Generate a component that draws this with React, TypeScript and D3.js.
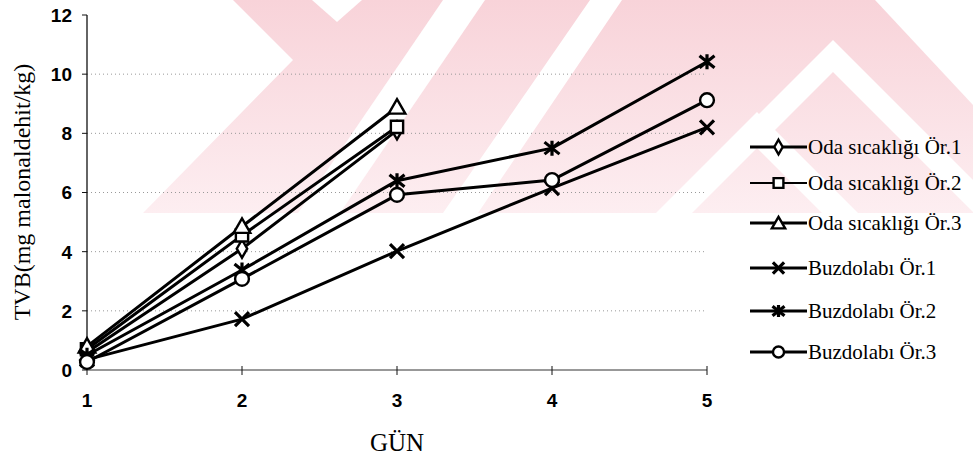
import React from "react";
import * as d3 from "d3";

// ---- data ----
const days = [1, 2, 3, 4, 5];
const yTicks = [0, 2, 4, 6, 8, 10, 12];
const gridValues = [2, 4, 6, 8, 10];
const seriesLabels = [
  "Oda sıcaklığı  Ör.1",
  "Oda sıcaklığı  Ör.2",
  "Oda sıcaklığı  Ör.3",
  "Buzdolabı Ör.1",
  "Buzdolabı Ör.2",
  "Buzdolabı Ör.3",
];
const odaOr1 = [0.6, 4.1, 8.1];
const odaOr2 = [0.7, 4.55, 8.22];
const odaOr3 = [0.8, 4.85, 8.88];
const buzOr1 = [0.35, 1.72, 4.02, 6.15, 8.2];
const buzOr2 = [0.5, 3.38, 6.4, 7.5, 10.42];
const buzOr3 = [0.27, 3.08, 5.92, 6.42, 9.12];
const seriesValues = [odaOr1, odaOr2, odaOr3, buzOr1, buzOr2, buzOr3];
const markerKinds = ["diamond", "square", "triangle", "x", "asterisk", "circle"];
const xTitle = "GÜN";
const yTitle = "TVB(mg malonaldehit/kg)";

// ---- layout ----
const W = 973;
const H = 459;
const x = d3.scaleLinear().domain([1, 5]).range([87, 707]);
const y = d3.scaleLinear().domain([0, 12]).range([370, 15]);
const legendX0 = 750;
const legendX1 = 807;
const legendYs = [147, 183, 223, 268, 311, 352];

const serif = "'Liberation Serif', 'Times New Roman', serif";
const sans = "'Liberation Sans', Arial, sans-serif";

function Marker({ kind, cx, cy, s = 1 }: { kind: string; cx: number; cy: number; s?: number }) {
  const sw = 2.4;
  if (kind === "x") {
    const r = 7 * s;
    return (
      <path
        d={`M${cx - r},${cy - r}L${cx + r},${cy + r}M${cx - r},${cy + r}L${cx + r},${cy - r}`}
        stroke="#000"
        strokeWidth={3.2}
        fill="none"
      />
    );
  }
  if (kind === "asterisk") {
    const r = 7.5 * s;
    return (
      <path
        d={`M${cx - r},${cy - r * 0.8}L${cx + r},${cy + r * 0.8}M${cx - r},${cy + r * 0.8}L${cx + r},${cy - r * 0.8}M${cx},${cy - r}L${cx},${cy + r}`}
        stroke="#000"
        strokeWidth={3.2}
        fill="none"
      />
    );
  }
  const typeMap: Record<string, any> = {
    diamond: d3.symbolDiamond,
    square: d3.symbolSquare,
    triangle: d3.symbolTriangle,
    circle: d3.symbolCircle,
  };
  const sizeMap: Record<string, number> = {
    diamond: 95,
    square: 150,
    triangle: 120,
    circle: 150,
  };
  const p = d3.symbol().type(typeMap[kind]).size(sizeMap[kind] * s * s)() as string;
  return (
    <path
      d={p}
      transform={`translate(${cx},${cy + (kind === "triangle" ? 1.5 : 0)})`}
      fill="#fff"
      stroke="#000"
      strokeWidth={sw}
    />
  );
}

export default function App() {
  const line = d3
    .line<number>()
    .x((_, i) => x(days[i]))
    .y((v) => y(v));

  const pink = (pts: number[][]) => pts.map((p) => p.join(",")).join(" ");

  return (
    <svg
      width={W}
      height={H}
      style={{ position: "absolute", left: 0, top: 0, background: "#fff" }}
    >
      <defs>
        <linearGradient id="wm" x1="0" y1="0" x2="0" y2="1">
          <stop offset="0" stopColor="#f8d3d9" />
          <stop offset="1" stopColor="#fdeef1" />
        </linearGradient>
      </defs>
      {/* watermark */}
      <g>
        <polygon
          points={pink([
            [233, 0],
            [973, 0],
            [973, 213],
            [143, 213],
            [293, 60],
          ])}
          fill="url(#wm)"
        />
        <g fill="#fff">
          <polygon points={pink([[312, 0], [362, 0], [337, 22]])} />
          <polygon points={pink([[443, 0], [485, 0], [340, 213], [298, 213]])} />
          <polygon points={pink([[590, 0], [622, 0], [478, 213], [443, 213]])} />
          <polygon points={pink([[875, 0], [973, 0], [973, 105]])} />
          <polygon
            points={pink([
              [745, 128],
              [833, 40],
              [973, 180],
              [973, 212],
              [833, 72],
              [770, 135],
            ])}
          />
          <polygon
            points={pink([
              [656, 213],
              [757, 112],
              [858, 213],
              [822, 213],
              [757, 148],
              [692, 213],
            ])}
          />
        </g>
      </g>

      {/* grid */}
      {gridValues.map((v) => (
        <line
          key={v}
          x1={x(1)}
          x2={x(5)}
          y1={y(v)}
          y2={y(v)}
          stroke="#999"
          strokeWidth={1}
          strokeDasharray="1 3"
        />
      ))}

      {/* axes */}
      <line x1={x(1)} x2={x(1)} y1={y(12)} y2={y(0)} stroke="#111" strokeWidth={1.3} />
      <line x1={x(1)} x2={x(5)} y1={y(0)} y2={y(0)} stroke="#333" strokeWidth={1} />
      {yTicks.map((t) => (
        <g key={t}>
          <line x1={x(1) - 5} x2={x(1)} y1={y(t)} y2={y(t)} stroke="#111" strokeWidth={1} />
          <text
            x={72}
            y={y(t)}
            dy="0.36em"
            textAnchor="end"
            fontFamily={sans}
            fontWeight="bold"
            fontSize={19}
          >
            {t}
          </text>
        </g>
      ))}
      {days.map((d) => (
        <g key={d}>
          <line x1={x(d)} x2={x(d)} y1={y(0) - 4} y2={y(0) + 5} stroke="#111" strokeWidth={1} />
          <text
            x={x(d)}
            y={400}
            dy="0.36em"
            textAnchor="middle"
            fontFamily={sans}
            fontWeight="bold"
            fontSize={19}
          >
            {d}
          </text>
        </g>
      ))}

      {/* titles */}
      <text
        x={(x(1) + x(5)) / 2}
        y={451}
        textAnchor="middle"
        fontFamily={serif}
        fontSize={25}
      >
        {xTitle}
      </text>
      <text
        transform={`translate(30,192) rotate(-90)`}
        textAnchor="middle"
        fontFamily={serif}
        fontSize={24}
      >
        {yTitle}
      </text>

      {/* series */}
      {seriesValues.map((vals, si) => (
        <path
          key={"l" + si}
          d={line(vals) as string}
          fill="none"
          stroke="#000"
          strokeWidth={3}
          strokeLinejoin="round"
        />
      ))}
      {seriesValues.map((vals, si) =>
        vals.map((v, i) => (
          <Marker key={`m${si}-${i}`} kind={markerKinds[si]} cx={x(days[i])} cy={y(v)} />
        ))
      )}

      {/* legend */}
      {seriesLabels.map((lab, i) => (
        <g key={"lg" + i}>
          <line
            x1={legendX0}
            x2={legendX1}
            y1={legendYs[i]}
            y2={legendYs[i]}
            stroke="#000"
            strokeWidth={i === 1 ? 2 : 3}
          />
          <Marker kind={markerKinds[i]} cx={(legendX0 + legendX1) / 2} cy={legendYs[i]} s={0.8} />
          <text
            x={legendX1 + 1}
            y={legendYs[i]}
            dy="0.33em"
            fontFamily={serif}
            fontSize={21}
          >
            {lab}
          </text>
        </g>
      ))}
    </svg>
  );
}
